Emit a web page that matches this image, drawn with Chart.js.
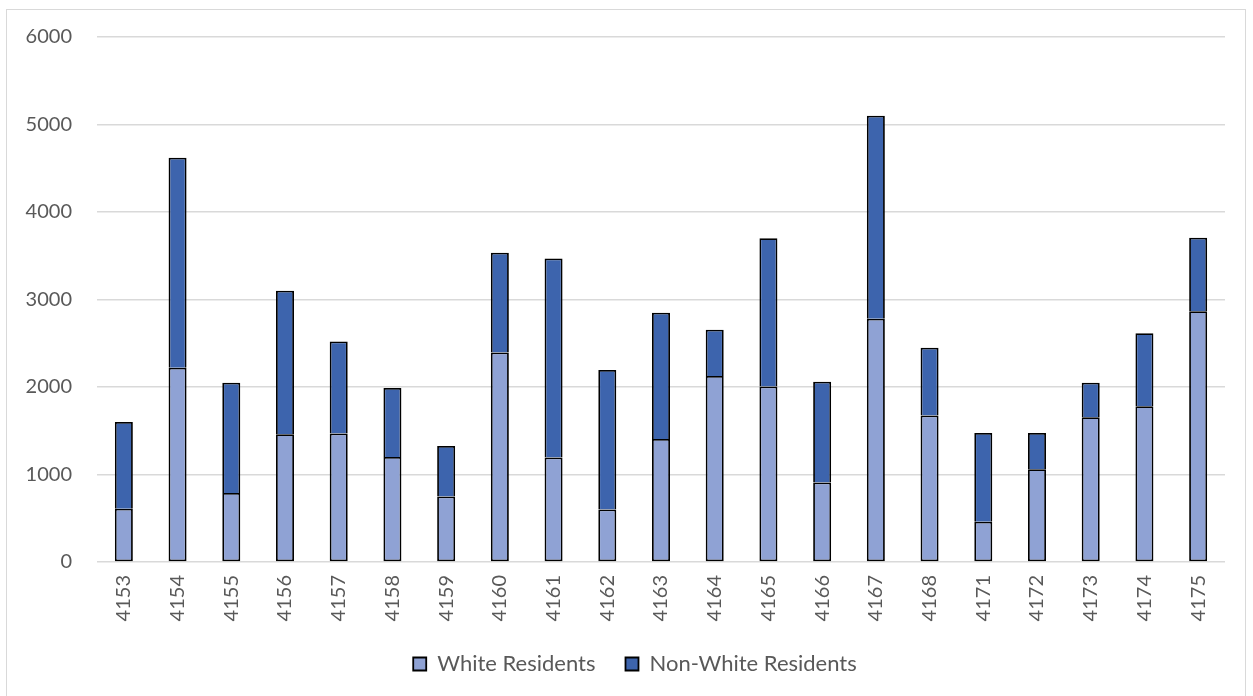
<!DOCTYPE html>
<html>
<head>
<meta charset="utf-8">
<script src="https://cdn.jsdelivr.net/npm/chart.js@4.4.1/dist/chart.umd.min.js"></script>
<style>
  html, body { margin: 0; padding: 0; background: #ffffff; }
  .frame {
    position: absolute; left: 6px; top: 9px; width: 1240px; height: 700px;
    border: 1px solid #d9d9d9; box-sizing: border-box;
  }
  .chart-box { position: absolute; left: 0; top: 0; width: 1253px; height: 696px; }
</style>
</head>
<body>
<div class="frame"></div>
<div class="chart-box"><canvas id="popChart"></canvas></div>
<script>
// tract numbers along the x axis
const tracts = ["4153","4154","4155","4156","4157","4158","4159","4160","4161","4162","4163",
                "4164","4165","4166","4167","4168","4171","4172","4173","4174","4175"];

const whiteResidents = [610, 2220, 790, 1460, 1470, 1200, 750, 2395, 1195, 600, 1405,
                        2125, 2005, 910, 2780, 1675, 460, 1060, 1655, 1780, 2865];
const totalResidents = [1600, 4620, 2050, 3100, 2520, 1990, 1325, 3535, 3470, 2195, 2850,
                        2655, 3700, 2060, 5100, 2450, 1475, 1475, 2050, 2615, 3705];
const nonWhiteResidents = totalResidents.map((t, i) => t - whiteResidents[i]);

const yTicks = [0, 1000, 2000, 3000, 4000, 5000, 6000];

const labelFont = { family: "Lato, 'Noto Sans', sans-serif", size: 20 };
const legendFont = { family: "Lato, 'Noto Sans', sans-serif", size: 22 };

// legend sits a bit right of the canvas centre in the original
const legendNudge = {
    id: "legendNudge",
    afterLayout(chart) {
        if (chart.legend) {
            chart.legend.left += 19;
            chart.legend.right += 19;
        }
    }
};

const ctx = document.getElementById("popChart");

new Chart(ctx, {
    type: "bar",
    data: {
        labels: tracts,
        datasets: [{
            label: "White Residents",
            data: whiteResidents,
            backgroundColor: "#8FA2D4",
            borderColor: "#000000",
            borderWidth: 1.8,
            borderSkipped: false,
            barPercentage: 0.5,
            categoryPercentage: 0.67
        }, {
            label: "Non-White Residents",
            data: nonWhiteResidents,
            backgroundColor: "#3D64AD",
            borderColor: "#000000",
            borderWidth: 1.8,
            borderSkipped: "start",
            barPercentage: 0.5,
            categoryPercentage: 0.67
        }]
    },
    options: {
        responsive: true,
        maintainAspectRatio: false,
        animation: false,
        layout: {
            padding: { left: 7, right: 28, top: 35, bottom: 11 }
        },
        plugins: {
            legend: {
                position: "bottom",
                labels: {
                    color: "#595959",
                    font: legendFont,
                    boxWidth: 13,
                    boxHeight: 13,
                    padding: 30
                }
            },
            tooltip: { enabled: false }
        },
        scales: {
            x: {
                stacked: true,
                afterFit: (axis) => { axis.height = 61; },
                grid: { display: false },
                border: { display: false },
                ticks: {
                    color: "#595959",
                    font: labelFont,
                    minRotation: 90,
                    maxRotation: 90,
                    padding: 5
                }
            },
            y: {
                stacked: true,
                min: 0,
                max: 6000,
                afterBuildTicks: (axis) => {
                    axis.ticks = yTicks.map(v => ({ value: v }));
                },
                afterFit: (axis) => { axis.width = 90; },
                grid: {
                    color: "#d9d9d9",
                    lineWidth: 1.5,
                    drawTicks: false
                },
                border: { display: false },
                ticks: {
                    color: "#595959",
                    font: labelFont,
                    padding: 25,
                    callback: (v) => String(v)
                }
            }
        }
    },
    plugins: [legendNudge]
});
</script>
</body>
</html>
